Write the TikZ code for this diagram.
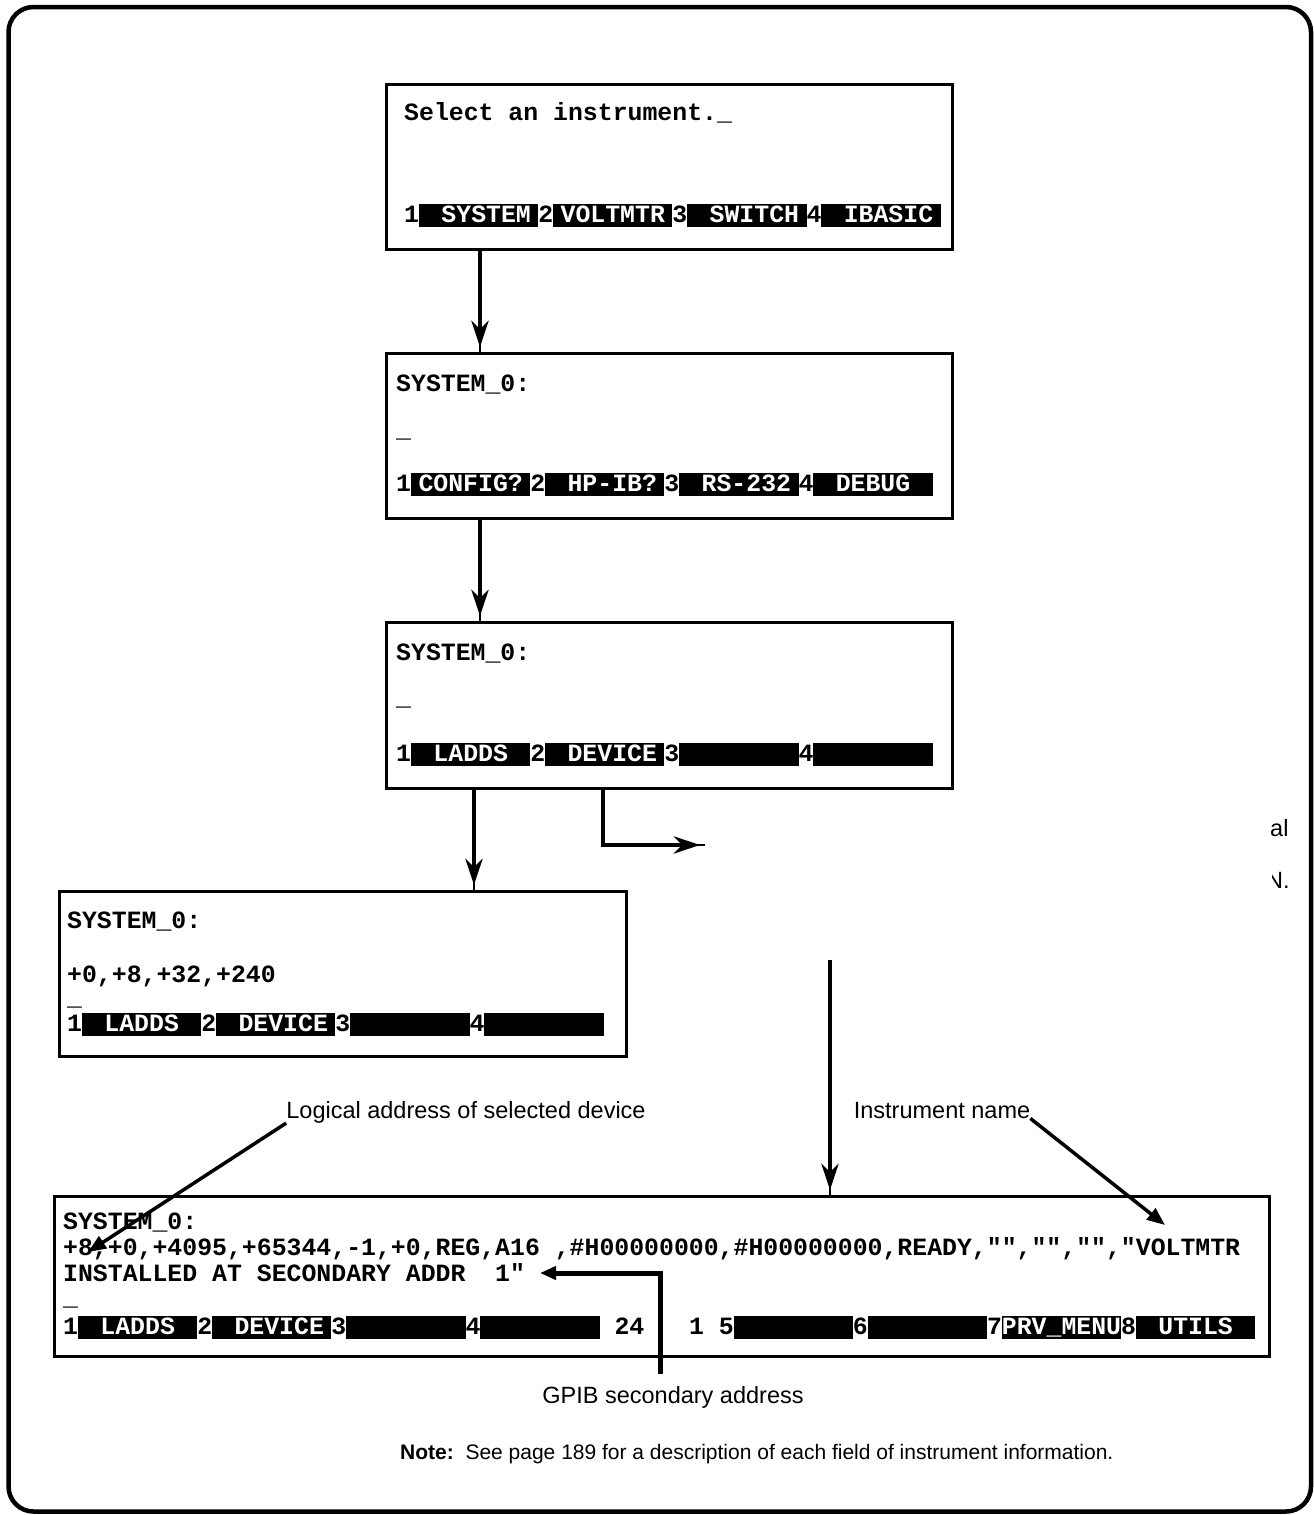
\documentclass[tikz,border=0pt]{standalone}
\usepackage{fontspec}
\setmainfont{Liberation Sans}
\newfontfamily\scrfont{Liberation Mono}
\usetikzlibrary{arrows.meta}
\newcommand\scrf{\scrfont\bfseries\fontsize{24.83pt}{26pt}\selectfont}
\newcommand\lblf{\fontsize{23.5pt}{26pt}\selectfont}
\newcommand\notef{\fontsize{21pt}{24pt}\selectfont}
\newcommand\esp{~~~~~~~~}
\begin{document}
\begin{tikzpicture}[x=1pt,y=-1pt,
  screen/.style={draw, line width=3pt, inner sep=0pt, anchor=north west},
  tx/.style={inner sep=0pt, anchor=base west, font=\scrf},
  kbar/.style={fill=black, text=white, inner sep=0pt, anchor=base west, font=\scrf,
               minimum width=119.2pt, text height=18pt, text depth=5pt},
  lbl/.style={inner sep=0pt, anchor=base, font=\lblf},
  thinl/.style={line width=1.2pt},
  flow/.style={line width=4.5pt, -{Stealth[length=26pt,width=17pt,inset=8pt]}, shorten >=5pt},
  pointer/.style={line width=3.5pt, -{Triangle[length=18pt,width=14pt]}},
  gpib/.style={line width=5pt, -{Triangle[length=16pt,width=13pt]}, shorten <=12pt}
]
\useasboundingbox (0,0) rectangle (1314,1515);
% outer frame
\draw[line width=4.5pt, rounded corners=25pt] (8.5,7) rectangle (1311,1511.5);

% ---------- screen 1
\node[screen, minimum width=566pt, minimum height=165pt] (s1) at (385,83) {};
\node[tx] (s1l1) at (404,120) {Select~an~instrument.\_};
\node[tx] (s1d) at (404,222) {1\esp2\esp3\esp4};
\node[kbar] (s1k1) at (418.9,222) {~SYSTEM~};
\node[kbar] (s1k2) at (553.0,222) {VOLTMTR~};
\node[kbar] (s1k3) at (687.1,222) {~SWITCH~};
\node[kbar] (s1k4) at (821.2,222) {~IBASIC~};

% ---------- screen 2
\node[screen, minimum width=566pt, minimum height=165pt] (s2) at (385,352) {};
\node[tx] (s2l1) at (396,391) {SYSTEM\_0:};
\node[tx] (s2c) at (396,437) {\_};
\node[tx] (s2d) at (396,491) {1\esp2\esp3\esp4};
\node[kbar] (s2k1) at (410.9,491) {CONFIG?~};
\node[kbar] (s2k2) at (545.0,491) {~HP-IB?~};
\node[kbar] (s2k3) at (679.1,491) {~RS-232~};
\node[kbar] (s2k4) at (813.2,491) {~DEBUG~~};

% ---------- screen 3
\node[screen, minimum width=566pt, minimum height=166pt] (s3) at (385,621) {};
\node[tx] (s3l1) at (396,660) {SYSTEM\_0:};
\node[tx] (s3c) at (396,705) {\_};
\node[tx] (s3d) at (396,761) {1\esp2\esp3\esp4};
\node[kbar] (s3k1) at (410.9,761) {~LADDS~~};
\node[kbar] (s3k2) at (545.0,761) {~DEVICE~};
\node[kbar] (s3k3) at (679.1,761) {};
\node[kbar] (s3k4) at (813.2,761) {};

% ---------- screen 4
\node[screen, minimum width=567pt, minimum height=165pt] (s4) at (58,890) {};
\node[tx] (s4l1) at (67,928) {SYSTEM\_0:};
\node[tx] (s4l2) at (67,982) {+0,+8,+32,+240};
\node[tx] (s4c) at (67,1005) {\_};
\node[tx] (s4d) at (67,1031) {1\esp2\esp3\esp4};
\node[kbar] (s4k1) at (81.9,1031) {~LADDS~~};
\node[kbar] (s4k2) at (216.0,1031) {~DEVICE~};
\node[kbar] (s4k3) at (350.1,1031) {};
\node[kbar] (s4k4) at (484.2,1031) {};

% ---------- screen 5
\node[screen, minimum width=1215pt, minimum height=160pt] (s5) at (53,1195) {};
\node[tx] (s5l1) at (63,1229) {SYSTEM\_0:};
\node[tx] (s5l2) at (63,1255) {+8,+0,+4095,+65344,-1,+0,REG,A16~,\#H00000000,\#H00000000,READY,"","","","VOLTMTR};
\node[tx] (s5l3) at (63,1281) {INSTALLED~AT~SECONDARY~ADDR~~1"};
\node[tx] (s5c) at (63,1305) {\_};
\node[tx] (s5d) at (63,1334) {1\esp2\esp3\esp4\esp~24~~~1~5\esp6\esp7\esp8};
\node[kbar] (s5k1) at (77.9,1334) {~LADDS~~};
\node[kbar] (s5k2) at (212.0,1334) {~DEVICE~};
\node[kbar] (s5k3) at (346.1,1334) {};
\node[kbar] (s5k4) at (480.2,1334) {};
\node[kbar] (s5k5) at (733.5,1334) {};
\node[kbar] (s5k6) at (867.6,1334) {};
\node[kbar] (s5k7) at (1001.7,1334) {PRV\_MENU};
\node[kbar] (s5k8) at (1135.8,1334) {~UTILS~~};

% ---------- labels
\node[lbl] (lg) at (466,1118) {Logical address of selected device};
\node[lbl] (inm) at (942,1118) {Instrument name};
\node[lbl] (gp) at (673,1403) {GPIB secondary address};
\node[inner sep=0pt, anchor=base west, font=\notef] (note) at (400,1459)
  {\textbf{Note:}~~See page 189 for a description of each field of instrument information.};
\node[inner sep=0pt, anchor=base west, font=\lblf] (frag1) at (1270,836) {al};
\begin{scope}
  \clip (1272,860) rectangle (1300,900);
  \node[inner sep=0pt, anchor=base west, font=\lblf] (frag2) at (1266,888) {N.};
\end{scope}

% ---------- connectors
\coordinate (ca) at (480,0);
\draw[thinl] (ca |- s1.south) -- (ca |- s2.north);
\draw[flow]  (ca |- s1.south) -- (ca |- s2.north);
\draw[thinl] (ca |- s2.south) -- (ca |- s3.north);
\draw[flow]  (ca |- s2.south) -- (ca |- s3.north);

\coordinate (cc) at (474,0);
\draw[thinl] (cc |- s3.south) -- (cc |- s4.north);
\draw[flow]  (cc |- s3.south) -- (cc |- s4.north);

\coordinate (cb) at (603,0);
\coordinate (eb) at (705,845);
\draw[thinl] (cb |- s3.south) |- (eb);
\draw[flow]  (cb |- s3.south) |- (eb);

\coordinate (lt) at (830,960);
\draw[thinl] (lt) -- (lt |- s5.north);
\draw[flow]  (lt) -- (lt |- s5.north);

\coordinate (pa) at (88,1252);
\draw[pointer] (lg.south west) -- (pa);
\coordinate (pb) at (1165,1225);
\draw[pointer] (inm.south east) -- (pb);

\coordinate (cg) at (660,0);
\coordinate (eg) at (540,1273);
\draw[gpib] (cg |- gp.north) |- (eg);
\end{tikzpicture}
\end{document}
